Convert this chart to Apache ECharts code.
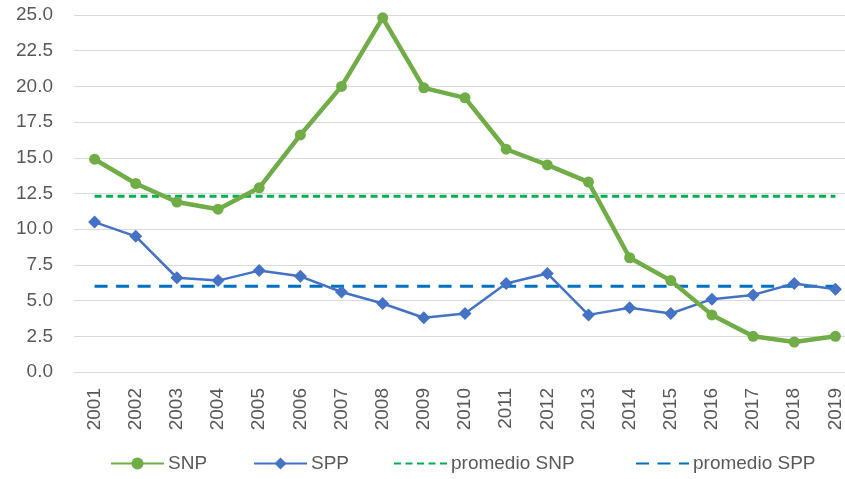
<!DOCTYPE html>
<html>
<head>
<meta charset="utf-8">
<script src="https://cdn.jsdelivr.net/npm/echarts@6/dist/echarts.min.js"></script>
<style>
  html, body { margin: 0; padding: 0; background: #fff; }
  #chart { width: 845px; height: 479px; }
</style>
</head>
<body>
<div id="chart"></div>
<script>
// datos
const years = ['2001', '2002', '2003', '2004', '2005', '2006', '2007', '2008', '2009', '2010',
  '2011', '2012', '2013', '2014', '2015', '2016', '2017', '2018', '2019']
const snp = [14.9, 13.2, 11.9, 11.4, 12.9, 16.6, 20.0, 24.8, 19.9, 19.2,
  15.6, 14.5, 13.3, 8.0, 6.4, 4.0, 2.5, 2.1, 2.5]
const spp = [10.5, 9.5, 6.6, 6.4, 7.1, 6.7, 5.6, 4.8, 3.8, 4.1,
  6.2, 6.9, 4.0, 4.5, 4.1, 5.1, 5.4, 6.2, 5.8]
const promedioSnp = [12.3, 12.3]
const promedioSpp = [6.0, 6.0]
const yTicks = [0, 2.5, 5, 7.5, 10, 12.5, 15, 17.5, 20, 22.5, 25]

const font = 'Liberation Sans, Arial, sans-serif'
const textColor = '#595959'

const chart = echarts.init(document.getElementById('chart'))

const legendBase = {
  top: 449,
  itemWidth: 53,
  itemHeight: 15,
  itemGap: 0,
  textStyle: { color: textColor, fontSize: 19, fontFamily: font, padding: [0, 0, 0, -1] },
}

chart.setOption({
  animation: false,
  grid: { left: 74, top: 15, width: 782, height: 357, outerBoundsMode: 'none' },
  legend: [
    { ...legendBase, left: 105, data: ['SNP'] },
    { ...legendBase, left: 248, data: ['SPP'] },
    { ...legendBase, left: 388, data: [{ name: 'promedio SNP', itemStyle: { opacity: 0 } }] },
    { ...legendBase, left: 630, data: [{ name: 'promedio SPP', itemStyle: { opacity: 0 } }] },
  ],
  xAxis: {
    type: 'category',
    data: years,
    boundaryGap: true,
    axisLine: { show: false },
    axisTick: { show: false },
    axisLabel: {
      rotate: 90,
      interval: 0,
      margin: 16,
      color: textColor,
      fontSize: 19,
      fontFamily: font,
    },
  },
  yAxis: {
    type: 'value',
    min: yTicks[0],
    max: yTicks[yTicks.length - 1],
    interval: 2.5,
    axisLine: { show: false },
    axisTick: { show: false },
    axisLabel: {
      margin: 21,
      color: textColor,
      fontSize: 19,
      fontFamily: font,
      formatter: v => v.toFixed(1),
    },
    splitLine: { lineStyle: { color: '#d9d9d9', width: 1 } },
  },
  series: [
    {
      name: 'promedio SNP',
      type: 'line',
      data: [[0, promedioSnp[0]], [years.length - 1, promedioSnp[1]]],
      symbol: 'none',
      lineStyle: { color: '#00b050', width: 3, type: [7, 4.5] },
      itemStyle: { color: '#00b050' },
      z: 1,
    },
    {
      name: 'promedio SPP',
      type: 'line',
      data: [[0, promedioSpp[0]], [years.length - 1, promedioSpp[1]]],
      symbol: 'none',
      lineStyle: { color: '#0070c0', width: 3, type: [13, 8.5] },
      itemStyle: { color: '#0070c0' },
      z: 1,
    },
    {
      name: 'SPP',
      type: 'line',
      data: spp,
      symbol: 'diamond',
      symbolSize: 13,
      lineStyle: { color: '#4472c4', width: 2.5 },
      itemStyle: { color: '#4472c4' },
      z: 2,
    },
    {
      name: 'SNP',
      type: 'line',
      data: snp,
      symbol: 'circle',
      symbolSize: 11,
      lineStyle: { color: '#70ad47', width: 4.5 },
      itemStyle: { color: '#70ad47' },
      z: 3,
    },
  ],
})
</script>
</body>
</html>
